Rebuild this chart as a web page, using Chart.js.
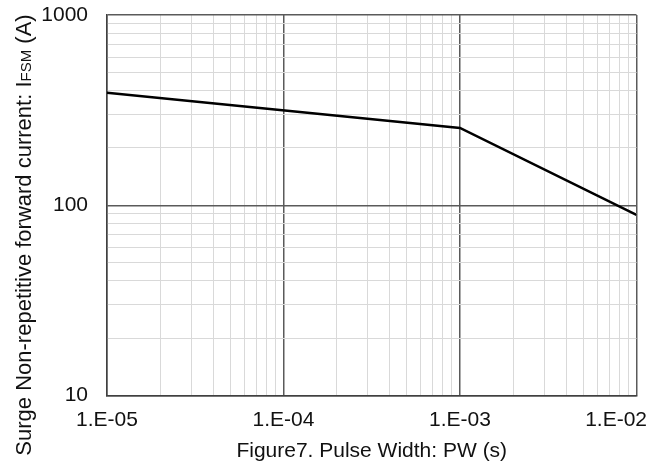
<!DOCTYPE html>
<html>
<head>
<meta charset="utf-8">
<script src="https://cdn.jsdelivr.net/npm/chart.js@4"></script>
<style>
  html, body { margin: 0; padding: 0; background: #fff; }
  #wrap { width: 652px; height: 474px; position: relative; }
</style>
</head>
<body>
<div id="wrap"><canvas id="chart" width="652" height="474"></canvas></div>
<script>
const pulseWidth = [1e-5, 1e-3, 1e-2];
const surgeCurrent = [390, 255, 89];
const xDecades = [1e-5, 1e-4, 1e-3, 1e-2];
const xTickLabels = ["1.E-05", "1.E-04", "1.E-03", "1.E-02"];
const yDecades = [10, 100, 1000];
const yTickLabels = ["10", "100", "1000"];

const FONT = "'Liberation Sans', Arial, sans-serif";
const TEXT = "#111";

function logTicks(decades) {
  const ticks = [];
  decades.forEach((d, i) => {
    ticks.push({ value: d, major: true });
    if (i < decades.length - 1) {
      for (let k = 2; k <= 9; k++) ticks.push({ value: d * k, major: false });
    }
  });
  return ticks;
}

const gridColor = (ctx) => (ctx.tick && ctx.tick.major ? "#5a5a5a" : "#d9d9d9");
const gridWidth = (ctx) => (ctx.tick && ctx.tick.major ? 1.5 : 1);

// rotated y title, with the small "FSM" after the I
const yTitle = {
  id: "yTitle",
  afterDraw(chart) {
    const c = chart.ctx;
    const parts = [
      { t: "Surge Non-repetitive forward current: I", f: `22px ${FONT}` },
      { t: "FSM", f: `15px ${FONT}` },
      { t: " (A)", f: `22px ${FONT}` },
    ];
    let total = 0;
    parts.forEach((p) => { c.font = p.f; p.w = c.measureText(p.t).width; total += p.w; });
    c.save();
    c.translate(31, 235);
    c.rotate(-Math.PI / 2);
    c.fillStyle = TEXT;
    c.textBaseline = "alphabetic";
    c.textAlign = "left";
    let x = -total / 2;
    parts.forEach((p) => { c.font = p.f; c.fillText(p.t, x, 0); x += p.w; });
    c.restore();
  },
};

new Chart(document.getElementById("chart"), {
  type: "line",
  data: {
    datasets: [{
      data: pulseWidth.map((x, i) => ({ x, y: surgeCurrent[i] })),
      borderColor: "#000",
      borderWidth: 2.6,
      pointRadius: 0,
      tension: 0,
      fill: false,
    }],
  },
  options: {
    responsive: false,
    animation: false,
    devicePixelRatio: 1,
    layout: { padding: { top: 15, right: 15.5, left: 0, bottom: 0 } },
    plugins: { legend: { display: false }, tooltip: { enabled: false } },
    scales: {
      x: {
        type: "logarithmic",
        min: xDecades[0],
        max: xDecades[xDecades.length - 1],
        afterBuildTicks: (s) => { s.ticks = logTicks(xDecades); },
        afterFit: (s) => { s.height = 78.5; s.paddingLeft = 0; s.paddingRight = 0; },
        grid: { color: gridColor, lineWidth: gridWidth, drawTicks: false },
        border: { color: "#404040", width: 1.5 },
        ticks: {
          autoSkip: false,
          maxRotation: 0,
          padding: 12,
          color: TEXT,
          font: { family: FONT, size: 21 },
          callback: function (v) {
            const i = xDecades.findIndex((d) => Math.abs(d - v) / d < 1e-6);
            if (i < 0) return "";
            // last label sits inside the canvas, like the original
            return i === xDecades.length - 1 ? xTickLabels[i] + "\u00a0".repeat(7) : xTickLabels[i];
          },
        },
        title: {
          display: true,
          text: "Figure7. Pulse Width: PW (s)",
          color: TEXT,
          font: { family: FONT, size: 21 },
          padding: { top: 0, bottom: 10 },
        },
      },
      y: {
        type: "logarithmic",
        min: yDecades[0],
        max: yDecades[yDecades.length - 1],
        afterBuildTicks: (s) => { s.ticks = logTicks(yDecades); },
        afterFit: (s) => { s.width = 107; s.paddingTop = 0; s.paddingBottom = 0; },
        grid: { color: gridColor, lineWidth: gridWidth, drawTicks: false },
        border: { color: "#404040", width: 1.5 },
        ticks: {
          autoSkip: false,
          padding: 19,
          color: TEXT,
          font: { family: FONT, size: 21 },
          callback: function (v) {
            const i = yDecades.findIndex((d) => Math.abs(d - v) / d < 1e-6);
            return i >= 0 ? yTickLabels[i] : "";
          },
        },
      },
    },
  },
  plugins: [yTitle],
});
</script>
</body>
</html>
